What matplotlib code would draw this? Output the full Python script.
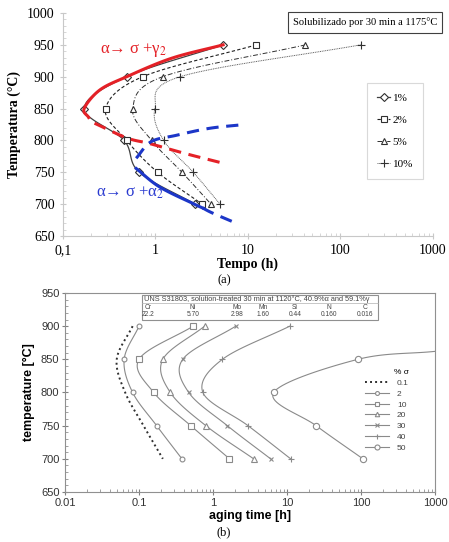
import numpy as np
import matplotlib
matplotlib.use("Agg")
import matplotlib.pyplot as plt
from matplotlib.ticker import MultipleLocator, LogLocator, NullFormatter
from matplotlib.patches import Rectangle

plt.rcParams["mathtext.fontset"] = "stix"

# ---- (a) curvas TTP, fração de sigma
temp_a = [950, 900, 850, 800, 750, 700]
t_1 = [5.4, 0.49, 0.17, 0.46, 0.67, 2.7]
t_2 = [12.4, 0.73, 0.29, 0.49, 1.06, 3.2]
t_5 = [42, 1.2, 0.57, 0.91, 1.94, 4.0]
t_10 = [166, 1.85, 0.99, 1.23, 2.57, 5.0]

# linhas de reação desenhadas à mão
red_solid_t = [5.4, 1.5, 0.49, 0.25, 0.17, 0.19]
red_solid_T = [950, 929, 900, 879, 850, 836]
red_dash_t = [0.22, 0.49, 0.87, 2.16, 5.15]
red_dash_T = [827, 804, 795, 779, 765]
blue_up_t = [0.62, 0.9, 1.68, 3.85, 9.2]
blue_up_T = [772, 798, 808, 819, 825]
blue_solid_t = [0.62, 1.11, 2.55, 3.24]
blue_solid_T = [756, 727, 701, 694]
blue_low_t = [3.24, 4.15, 7.5]
blue_low_T = [694, 686, 670]

# ---- (b) UNS S31803
temp_b = [900, 850, 800, 750, 700]
tb_01 = [0.082, 0.05, 0.065, 0.115, 0.21]
tb_2 = [0.1, 0.063, 0.082, 0.173, 0.38]
tb_10 = [0.54, 0.1, 0.158, 0.5, 1.67]
tb_20 = [0.77, 0.21, 0.265, 0.8, 3.54]
tb_30 = [2.03, 0.39, 0.47, 1.56, 6.0]
tb_40 = [10.9, 1.34, 0.73, 2.97, 11.2]
tb_50 = [1000, 91, 6.6, 24.7, 106]
temp_b50 = [862, 850, 800, 750, 700]

elements = ["Cr", "Ni", "Mo", "Mn", "Si", "N", "C"]
composition = ["22.2", "5.70", "2.98", "1.60", "0.44", "0.160", "0.016"]


def smooth(t, T, n=20):
    """Catmull-Rom em (log t, T), devolve pontos e índices dos pontos originais."""
    pts = np.column_stack([np.log10(t), np.asarray(T, float)])
    if len(pts) < 3:
        return np.asarray(t, float), np.asarray(T, float), list(range(len(t)))
    P = np.vstack([2 * pts[0] - pts[1], pts, 2 * pts[-1] - pts[-2]])
    s = np.linspace(0, 1, n, endpoint=False)[:, None]
    out = []
    for i in range(1, len(P) - 2):
        p0, p1, p2, p3 = P[i - 1], P[i], P[i + 1], P[i + 2]
        seg = 0.5 * (2 * p1 + (-p0 + p2) * s + (2 * p0 - 5 * p1 + 4 * p2 - p3) * s ** 2
                     + (-p0 + 3 * p1 - 3 * p2 + p3) * s ** 3)
        out.append(seg)
    out.append(pts[-1:])
    out = np.vstack(out)
    return 10 ** out[:, 0], out[:, 1], list(range(0, len(out), n))


SERIF = "Liberation Serif"
SANS = "Liberation Sans"

fig = plt.figure(figsize=(4.49, 5.42), dpi=100)

# ================= (a) =================
ax1 = fig.add_axes([0.140, 0.5646, 0.824, 0.4114])
ax1.set_xscale("log")

series_a = [
    (t_1, "1%", "D", "-", "#404040", 0.9),
    (t_2, "2%", "s", (0, (3, 2)), "#202020", 0.8),
    (t_5, "5%", "^", (0, (5, 2, 1, 2)), "#303030", 0.7),
    (t_10, "10%", "+", (0, (1, 0.8)), "#606060", 0.7),
]
for tt, lab, mk, ls, col, lw in series_a:
    x, y, idx = smooth(tt, temp_a)
    ax1.plot(x, y, linestyle=ls, color=col, lw=lw, marker=mk, markevery=idx,
             ms=4.5 if mk != "+" else 6, mfc="white", mec="#303030", mew=0.8,
             label=lab, zorder=3)

red = "#e42127"
blue = "#1c36c8"
x, y, _ = smooth(red_solid_t, red_solid_T)
ax1.plot(x, y, color=red, lw=2.2, zorder=4)
x, y, _ = smooth(red_dash_t, red_dash_T)
ax1.plot(x, y, color=red, lw=2.2, ls=(0, (4, 2.5)), zorder=4)
x, y, _ = smooth(blue_up_t, blue_up_T)
ax1.plot(x, y, color=blue, lw=2.2, ls=(0, (4, 2.5)), zorder=4)
x, y, _ = smooth(blue_solid_t, blue_solid_T)
ax1.plot(x, y, color=blue, lw=2.2, zorder=4)
x, y, _ = smooth(blue_low_t, blue_low_T)
ax1.plot(x, y, color=blue, lw=2.2, ls=(0, (4, 2.5)), zorder=4)

ax1.text(0.25, 942, r"α→ σ +γ$_2$", color=red, fontsize=12, family=SERIF,
         va="center", ha="left")
ax1.text(0.23, 718, r"α→ σ +α$_2$", color="#2a3ad0", fontsize=12, family=SERIF,
         va="center", ha="left")

ax1.set_xlim(0.1, 1000)
ax1.set_ylim(650, 1000)
ax1.set_xticks([0.1, 1, 10, 100, 1000])
ax1.set_xticklabels(["0,1", "1", "10", "100", "1000"])
ax1.xaxis.set_minor_locator(LogLocator(base=10, subs=np.arange(2, 10)))
ax1.xaxis.set_minor_formatter(NullFormatter())
ax1.set_yticks(np.arange(650, 1001, 50))
ax1.yaxis.set_minor_locator(MultipleLocator(10))
for sp in ["top", "right"]:
    ax1.spines[sp].set_visible(False)
for sp in ["left", "bottom"]:
    ax1.spines[sp].set_color("#c8c8c8")
    ax1.spines[sp].set_linewidth(0.8)
ax1.tick_params(which="major", direction="inout", length=4, color="#c8c8c8",
                labelsize=10, pad=4)
ax1.tick_params(which="minor", direction="in", length=2, color="#d0d0d0")
for lbl in ax1.get_xticklabels() + ax1.get_yticklabels():
    lbl.set_family(SERIF)
ax1.set_ylabel("Temperatura (°C)", family=SERIF, fontsize=10, fontweight="bold", labelpad=4)
ax1.set_xlabel("Tempo (h)", family=SERIF, fontsize=10, fontweight="bold", labelpad=0)

leg1 = ax1.legend(loc="upper left", bbox_to_anchor=(367 / 449, 1 - 83 / 542),
                  bbox_transform=fig.transFigure, borderaxespad=0,
                  prop={"family": SERIF, "size": 8}, handlelength=1.2,
                  handletextpad=0.2, labelspacing=1.1, fancybox=False,
                  borderpad=0.9)
leg1.get_frame().set_edgecolor("#d0d0d0")
leg1.get_frame().set_linewidth(0.8)

fig.text(365 / 449, 1 - 22.5 / 542, "Solubilizado por 30 min a 1175°C", family=SERIF,
         fontsize=7.6, ha="center", va="center",
         bbox=dict(boxstyle="square,pad=0.5", fc="white", ec="#404040", lw=0.8))
fig.text(224 / 449, 1 - 280 / 542, "(a)", family=SERIF, fontsize=9, ha="center", va="center")

# ================= (b) =================
ax2 = fig.add_axes([0.1448, 0.0923, 0.824, 0.3671])
ax2.set_xscale("log")
gray = "#8a8a8a"

x, y, _ = smooth(tb_01, temp_b)
ax2.plot(x, y, color="#303030", lw=1.4, ls=(0, (1, 1.6)), label="0.1")
series_b = [
    (tb_2, temp_b, "2", "o", 3.5),
    (tb_10, temp_b, "10", "s", 4),
    (tb_20, temp_b, "20", "^", 4),
    (tb_30, temp_b, "30", "x", 3.5),
    (tb_40, temp_b, "40", "+", 4.5),
    (tb_50, temp_b50, "50", "o", 4.5),
]
for tt, TT, lab, mk, ms in series_b:
    x, y, idx = smooth(tt, TT)
    if lab == "50":
        idx = idx[1:]
    ax2.plot(x, y, color=gray, lw=0.8, marker=mk, markevery=idx, ms=ms,
             mfc="white", mec=gray, mew=0.8, label=lab)

ax2.set_xlim(0.01, 1000)
ax2.set_ylim(650, 950)
ax2.set_xticks([0.01, 0.1, 1, 10, 100, 1000])
ax2.set_xticklabels(["0.01", "0.1", "1", "10", "100", "1000"])
ax2.xaxis.set_minor_locator(LogLocator(base=10, subs=np.arange(2, 10)))
ax2.xaxis.set_minor_formatter(NullFormatter())
ax2.set_yticks(np.arange(650, 951, 50))
ax2.yaxis.set_minor_locator(MultipleLocator(10))
for sp in ax2.spines.values():
    sp.set_color("#909090")
    sp.set_linewidth(0.8)
ax2.tick_params(which="major", direction="inout", length=4, color="#808080",
                labelsize=8, labelcolor="#333333", pad=2)
ax2.tick_params(which="minor", direction="in", length=2, color="#909090")
for lbl in ax2.get_xticklabels() + ax2.get_yticklabels():
    lbl.set_family(SANS)
ax2.set_ylabel("temperature [°C]", family=SANS, fontsize=9, fontweight="bold", labelpad=4)
ax2.set_xlabel("aging time [h]", family=SANS, fontsize=9, fontweight="bold", labelpad=2)

leg2 = ax2.legend(loc="upper left", bbox_to_anchor=(362 / 449, 1 - 366 / 542),
                  bbox_transform=fig.transFigure, borderaxespad=0, frameon=False,
                  title="% σ", prop={"family": SANS, "size": 6},
                  title_fontproperties={"family": SANS, "size": 6},
                  handlelength=2.8, handletextpad=1.0, labelspacing=0.35,
                  markerscale=0.8)
for t in leg2.get_texts():
    t.set_color("#444444")
leg2._legend_box.align = "right"

# caixa de composição
box_l, box_r = 142 / 449, 378 / 449
box_t, box_b = 1 - 295 / 542, 1 - 320 / 542
fig.patches.append(Rectangle((box_l, box_b), box_r - box_l, box_t - box_b,
                             transform=fig.transFigure, fc="white", ec="#909090",
                             lw=0.8, zorder=5))
fig.text(box_l + 0.004, 1 - 299 / 542,
         "UNS S31803, solution-treated 30 min at 1120°C, 40.9%α and 59.1%γ",
         family=SANS, fontsize=5.3, color="#444444", ha="left", va="center", zorder=6)
fig.lines.append(plt.Line2D([box_l, box_r], [1 - 303 / 542] * 2, transform=fig.transFigure,
                            color="#b0b0b0", lw=0.5, zorder=6))
col_x = [148, 193, 237, 263, 295, 329, 365]
for cx, el, val in zip(col_x, elements, composition):
    fig.text(cx / 449, 1 - 307.5 / 542, el, family=SANS, fontsize=4.8, color="#444444",
             ha="center", va="center", zorder=6)
    fig.text(cx / 449, 1 - 315 / 542, val, family=SANS, fontsize=4.8, color="#444444",
             ha="center", va="center", zorder=6)

fig.text(224 / 449, 1 - 532 / 542, "(b)", family=SERIF, fontsize=9, ha="center", va="center")

fig.savefig("out.png", dpi=100)
